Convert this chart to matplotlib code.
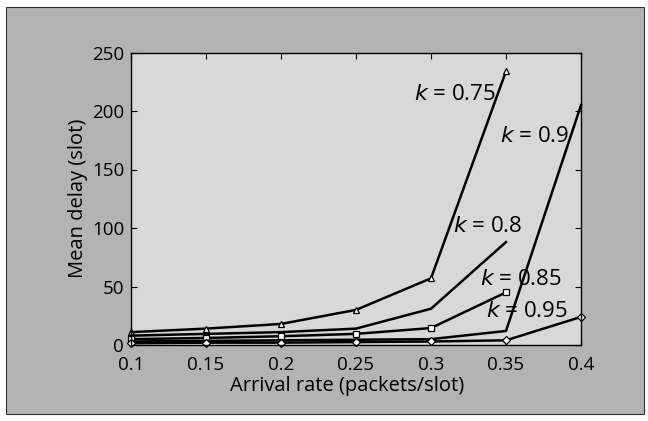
import matplotlib
matplotlib.use('Agg')
from matplotlib import pyplot as plt
from matplotlib.patches import Rectangle

plt.rcParams['font.family'] = ['Open Sans', 'DejaVu Sans']

rate = [0.1, 0.15, 0.2, 0.25, 0.3, 0.35, 0.4]

delay_075 = [11, 14, 18, 30, 57, 234]
delay_080 = [8, 9.5, 11, 14, 31, 88]
delay_085 = [5, 6, 7.5, 9.5, 14.5, 45]
delay_090 = [3, 3.5, 4, 4.5, 5, 12, 205]
delay_095 = [1.5, 2, 2, 2.5, 3, 4, 24]

series = [
	(delay_075, '^', 'k = 0.75', (0.289, 214)),
	(delay_080, None, 'k = 0.8', (0.3145, 101)),
	(delay_085, 's', 'k = 0.85', (0.333, 56)),
	(delay_090, None, 'k = 0.9', (0.346, 178)),
	(delay_095, 'D', 'k = 0.95', (0.337, 29)),
]

fig = plt.figure(figsize=(6.48, 4.21), dpi=100, facecolor='white')
fig.add_artist(Rectangle((6 / 648, 1 - 414 / 421), 638 / 648, 407 / 421,
	transform=fig.transFigure, facecolor='#b3b3b3', edgecolor='#333333', lw=0.8, zorder=-10))

ax = fig.add_axes([131 / 648, 1 - 345 / 421, 450 / 648, 292.5 / 421])
ax.set_zorder(5)
ax.set_facecolor('#d8d8d8')

for vals, mk, label, pos in series:
	ax.plot(rate[:len(vals)], vals, color='black', lw=1.8, marker=mk, ms=4,
		mfc='white', mec='black', mew=0.9, clip_on=False)
	name, value = label.split(' = ')
	ax.text(pos[0], pos[1], '$k$ = ' + value, fontsize=16, va='center', ha='left',
		fontweight='medium')

ax.set_xlim(0.1, 0.4)
ax.set_ylim(0, 250)
ax.set_xticks(rate)
ax.set_xticklabels(['0.1', '0.15', '0.2', '0.25', '0.3', '0.35', '0.4'])
ax.set_yticks([0, 50, 100, 150, 200, 250])
ax.tick_params(direction='in', length=4, width=0.8, top=True, right=True,
	labelsize=13.5, pad=5)
ax.tick_params(axis='x', pad=8)
for s in ax.spines.values():
	s.set_linewidth(1.0)

ax.set_xlabel('Arrival rate (packets/slot)', fontsize=14.5)
ax.set_ylabel('Mean delay (slot)', fontsize=14.5, labelpad=3)
ax.xaxis.set_label_coords(0.48, -0.105)

plt.savefig('out.png', dpi=100, facecolor=fig.get_facecolor())
